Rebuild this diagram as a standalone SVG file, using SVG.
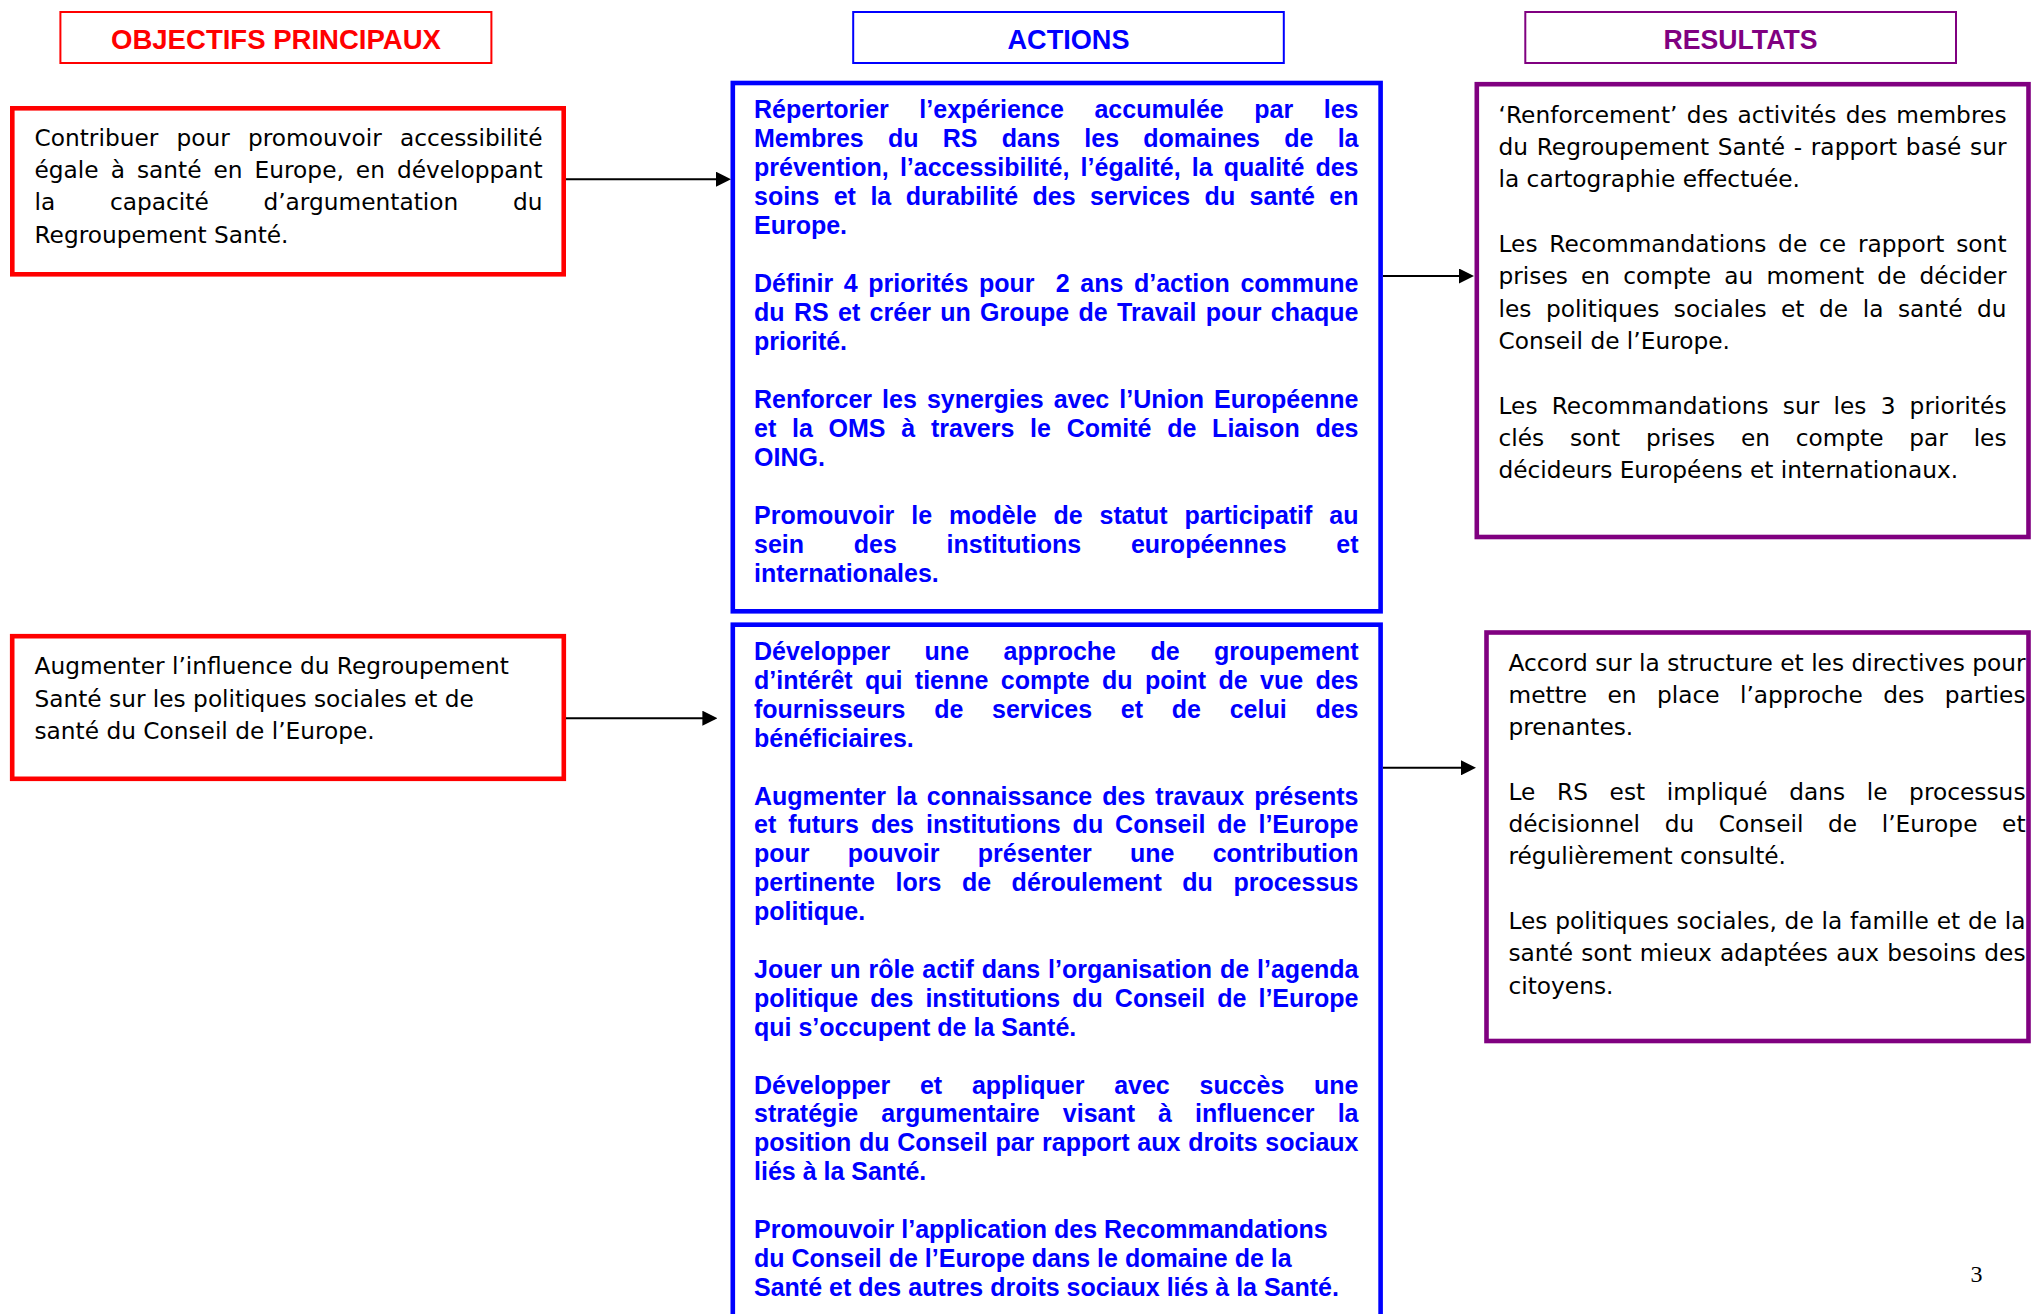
<svg xmlns="http://www.w3.org/2000/svg" width="2031" height="1314" viewBox="0 0 2031 1314">
<style>
.hbox{fill:#fff;stroke-width:2}
.box{fill:#fff;stroke-width:4.6}
.red{stroke:#ff0000}
.blue{stroke:#0000ff}
.purple{stroke:#800080}
.hdr{font-family:"Liberation Sans",Arial,sans-serif;font-weight:bold;font-size:27px;text-anchor:middle}
.body{font-family:"DejaVu Sans","Liberation Sans",sans-serif;font-size:23.25px;fill:#000}
.act{font-family:"Liberation Sans",Arial,sans-serif;font-weight:bold;font-size:25px;fill:#0000ff}
.conn{stroke:#000;stroke-width:2;fill:none}
</style>
<defs>
<marker id="ah" markerWidth="15" markerHeight="15" refX="12" refY="7.5" orient="auto" markerUnits="userSpaceOnUse">
<path d="M0,0 L15,7.5 L0,15 z" fill="#000"/>
</marker>
</defs>
<rect width="2031" height="1314" fill="#fff"/>

<g id="header-objectifs">
<rect class="hbox red" x="60.4" y="12" width="431" height="51"/>
<text class="hdr" x="276" y="49" fill="#ff0000" textLength="330" lengthAdjust="spacingAndGlyphs">OBJECTIFS PRINCIPAUX</text>
</g>
<g id="header-actions">
<rect class="hbox blue" x="853.2" y="12" width="430.6" height="51"/>
<text class="hdr" x="1068.5" y="49" fill="#0000ff" textLength="122" lengthAdjust="spacingAndGlyphs">ACTIONS</text>
</g>
<g id="header-resultats">
<rect class="hbox purple" x="1525.3" y="12" width="430.7" height="51"/>
<text class="hdr" x="1740.5" y="49" fill="#800080" textLength="154" lengthAdjust="spacingAndGlyphs">RESULTATS</text>
</g>

<g id="objectif-1">
<rect class="box red" x="12.3" y="108.3" width="551.4" height="166"/>
<text class="body" x="34.5" y="145.7" textLength="508" style="word-spacing:10.8px">Contribuer pour promouvoir accessibilité</text>
<text class="body" x="34.5" y="178" textLength="508" style="word-spacing:4.6px">égale à santé en Europe, en développant</text>
<text class="body" x="34.5" y="210.3" textLength="508" style="word-spacing:47.3px">la capacité d’argumentation du</text>
<text class="body" x="34.5" y="242.6">Regroupement Santé.</text>
</g>

<g id="objectif-2">
<rect class="box red" x="12.2" y="636.2" width="551.6" height="142.6"/>
<text class="body" x="34.5" y="674.3">Augmenter l’influence du Regroupement</text>
<text class="body" x="34.5" y="706.6">Santé sur les politiques sociales et de</text>
<text class="body" x="34.5" y="738.9">santé du Conseil de l’Europe.</text>
</g>

<g id="actions-1">
<rect class="box blue" x="732.8" y="83" width="647.8" height="528.3"/>
<text class="act" x="754" y="118.3" textLength="604.5" style="word-spacing:23.6px">Répertorier l’expérience accumulée par les</text>
<text class="act" x="754" y="147.3" textLength="604.5" style="word-spacing:17.3px">Membres du RS dans les domaines de la</text>
<text class="act" x="754" y="176.3" textLength="604.5" style="word-spacing:4.15px">prévention, l’accessibilité, l’égalité, la qualité des</text>
<text class="act" x="754" y="205.3" textLength="604.5" style="word-spacing:7.5px">soins et la durabilité des services du santé en</text>
<text class="act" x="754" y="234.3">Europe.</text>
<text class="act" x="754" y="292.3" textLength="604.5" style="word-spacing:3.7px">Définir 4 priorités pour&#160; 2 ans d’action commune</text>
<text class="act" x="754" y="321.3" textLength="604.5" style="word-spacing:2.3px">du RS et créer un Groupe de Travail pour chaque</text>
<text class="act" x="754" y="350.3">priorité.</text>
<text class="act" x="754" y="408.3" textLength="604.5" style="word-spacing:3.1px">Renforcer les synergies avec l’Union Européenne</text>
<text class="act" x="754" y="437.3" textLength="604.5" style="word-spacing:8.8px">et la OMS à travers le Comité de Liaison des</text>
<text class="act" x="754" y="466.3">OING.</text>
<text class="act" x="754" y="524.3" textLength="604.5" style="word-spacing:10px">Promouvoir le modèle de statut participatif au</text>
<text class="act" x="754" y="553.3" textLength="604.5" style="word-spacing:42.75px">sein des institutions européennes et</text>
<text class="act" x="754" y="582.3">internationales.</text>
</g>

<g id="actions-2">
<rect class="box blue" x="732.8" y="624.7" width="647.8" height="720"/>
<text class="act" x="754" y="660" textLength="604.5" style="word-spacing:27.5px">Développer une approche de groupement</text>
<text class="act" x="754" y="688.9" textLength="604.5" style="word-spacing:5.4px">d’intérêt qui tienne compte du point de vue des</text>
<text class="act" x="754" y="717.8" textLength="604.5" style="word-spacing:21.8px">fournisseurs de services et de celui des</text>
<text class="act" x="754" y="746.7">bénéficiaires.</text>
<text class="act" x="754" y="804.5" textLength="604.5" style="word-spacing:3.1px">Augmenter la connaissance des travaux présents</text>
<text class="act" x="754" y="833.4" textLength="604.5" style="word-spacing:5px">et futurs des institutions du Conseil de l’Europe</text>
<text class="act" x="754" y="862.3" textLength="604.5" style="word-spacing:31.3px">pour pouvoir présenter une contribution</text>
<text class="act" x="754" y="891.2" textLength="604.5" style="word-spacing:13.6px">pertinente lors de déroulement du processus</text>
<text class="act" x="754" y="920.1">politique.</text>
<text class="act" x="754" y="977.9" textLength="604.5" style="word-spacing:1px">Jouer un rôle actif dans l’organisation de l’agenda</text>
<text class="act" x="754" y="1006.8" textLength="604.5" style="word-spacing:5.1px">politique des institutions du Conseil de l’Europe</text>
<text class="act" x="754" y="1035.7">qui s’occupent de la Santé.</text>
<text class="act" x="754" y="1093.5" textLength="604.5" style="word-spacing:22.8px">Développer et appliquer avec succès une</text>
<text class="act" x="754" y="1122.4" textLength="604.5" style="word-spacing:16.1px">stratégie argumentaire visant à influencer la</text>
<text class="act" x="754" y="1151.3" textLength="604.5" style="word-spacing:0.8px">position du Conseil par rapport aux droits sociaux</text>
<text class="act" x="754" y="1180.2">liés à la Santé.</text>
<text class="act" x="754" y="1238">Promouvoir l’application des Recommandations</text>
<text class="act" x="754" y="1266.9">du Conseil de l’Europe dans le domaine de la</text>
<text class="act" x="754" y="1295.8">Santé et des autres droits sociaux liés à la Santé.</text>
</g>

<g id="resultats-1">
<rect class="box purple" x="1476.8" y="84.2" width="551.7" height="452.8"/>
<text class="body" x="1498.5" y="122.5" textLength="508" style="word-spacing:1.9px">‘Renforcement’ des activités des membres</text>
<text class="body" x="1498.5" y="154.85" textLength="508" style="word-spacing:1.2px">du Regroupement Santé - rapport basé sur</text>
<text class="body" x="1498.5" y="187.2">la cartographie effectuée.</text>
<text class="body" x="1498.5" y="251.9" textLength="508" style="word-spacing:4.3px">Les Recommandations de ce rapport sont</text>
<text class="body" x="1498.5" y="284.25" textLength="508" style="word-spacing:5.8px">prises en compte au moment de décider</text>
<text class="body" x="1498.5" y="316.6" textLength="508" style="word-spacing:7.2px">les politiques sociales et de la santé du</text>
<text class="body" x="1498.5" y="348.95">Conseil de l’Europe.</text>
<text class="body" x="1498.5" y="413.65" textLength="508" style="word-spacing:6.7px">Les Recommandations sur les 3 priorités</text>
<text class="body" x="1498.5" y="446" textLength="508" style="word-spacing:18.4px">clés sont prises en compte par les</text>
<text class="body" x="1498.5" y="478.35">décideurs Européens et internationaux.</text>
</g>

<g id="resultats-2">
<rect class="box purple" x="1486.5" y="632.5" width="542" height="408.5"/>
<text class="body" x="1508.5" y="670.5" textLength="517">Accord sur la structure et les directives pour</text>
<text class="body" x="1508.5" y="702.8" textLength="517" style="word-spacing:12.9px">mettre en place l’approche des parties</text>
<text class="body" x="1508.5" y="735.1">prenantes.</text>
<text class="body" x="1508.5" y="799.7" textLength="517" style="word-spacing:14.2px">Le RS est impliqué dans le processus</text>
<text class="body" x="1508.5" y="832" textLength="517" style="word-spacing:17.2px">décisionnel du Conseil de l’Europe et</text>
<text class="body" x="1508.5" y="864.3">régulièrement consulté.</text>
<text class="body" x="1508.5" y="928.9" textLength="517" style="word-spacing:0.4px">Les politiques sociales, de la famille et de la</text>
<text class="body" x="1508.5" y="961.2" textLength="517" style="word-spacing:0.9px">santé sont mieux adaptées aux besoins des</text>
<text class="body" x="1508.5" y="993.5">citoyens.</text>
</g>

<g id="connectors">
<line class="conn" x1="566" y1="179.2" x2="728" y2="179.2" marker-end="url(#ah)"/>
<line class="conn" x1="566" y1="718.2" x2="714.4" y2="718.2" marker-end="url(#ah)"/>
<line class="conn" x1="1383" y1="276" x2="1471" y2="276" marker-end="url(#ah)"/>
<line class="conn" x1="1383" y1="767.8" x2="1473" y2="767.8" marker-end="url(#ah)"/>
</g>

<text id="page-number" x="1970.5" y="1282" font-family="'Liberation Serif','Times New Roman',serif" font-size="24" fill="#000">3</text>
</svg>
